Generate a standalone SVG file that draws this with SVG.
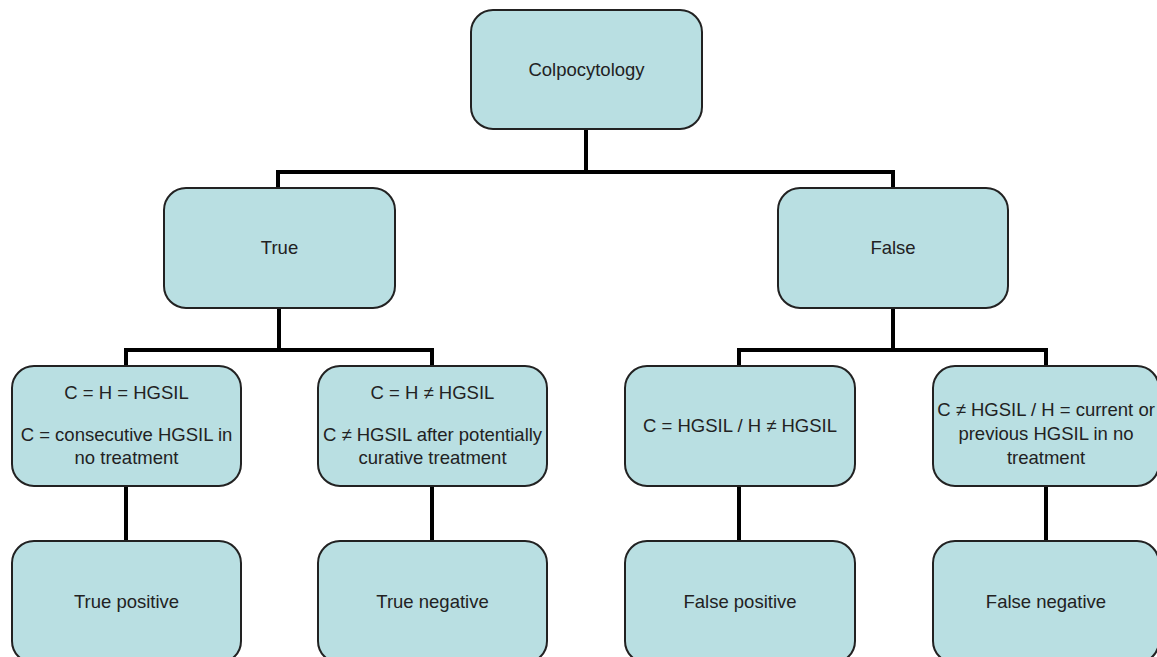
<svg xmlns="http://www.w3.org/2000/svg" width="1157" height="657" viewBox="0 0 1157 657">
<style>
.box{fill:#b9dfe2;stroke:#222;stroke-width:2}
.t{font-family:"Liberation Sans",Arial,sans-serif;font-size:18.5px;fill:#222;text-anchor:middle}
.c{fill:none;stroke:#000;stroke-width:4}
</style>
<rect width="1157" height="657" fill="#fff"/>
<g id="connectors">
<path class="c" d="M586 129V172M278 188V172H893V188"/>
<path class="c" d="M279 308V350M126 366V350H432V366"/>
<path class="c" d="M893 308V350M739 366V350H1046V366"/>
<path class="c" d="M126 486V541M432 486V541M739 486V541M1046 486V541"/>
</g>
<g id="root"><rect class="box" x="471" y="10" width="231" height="119" rx="22"/><text class="t" x="586.5" y="76">Colpocytology</text></g>
<g id="true"><rect class="box" x="164" y="188" width="231" height="120" rx="22"/><text class="t" x="279.5" y="254">True</text></g>
<g id="false"><rect class="box" x="778" y="188" width="230" height="120" rx="22"/><text class="t" x="893" y="254">False</text></g>
<g id="tp-cond"><rect class="box" x="12" y="366" width="229" height="120" rx="22"/><text class="t" x="126.5" y="399">C = H = HGSIL</text><text class="t" x="126.5" y="441">C = consecutive HGSIL in</text><text class="t" x="126.5" y="464">no treatment</text></g>
<g id="tn-cond"><rect class="box" x="318" y="366" width="229" height="120" rx="22"/><text class="t" x="432.5" y="399">C = H ≠ HGSIL</text><text class="t" x="432.5" y="441">C ≠ HGSIL after potentially</text><text class="t" x="432.5" y="464">curative treatment</text></g>
<g id="fp-cond"><rect class="box" x="625" y="366" width="230" height="120" rx="22"/><text class="t" x="740" y="432">C = HGSIL / H ≠ HGSIL</text></g>
<g id="fn-cond"><rect class="box" x="933" y="366" width="226" height="120" rx="22"/><text class="t" x="1046" y="416">C ≠ HGSIL / H = current or</text><text class="t" x="1046" y="440">previous HGSIL in no</text><text class="t" x="1046" y="464">treatment</text></g>
<g id="tp"><rect class="box" x="12" y="541" width="229" height="122" rx="22"/><text class="t" x="126.5" y="608">True positive</text></g>
<g id="tn"><rect class="box" x="318" y="541" width="229" height="122" rx="22"/><text class="t" x="432.5" y="608">True negative</text></g>
<g id="fp"><rect class="box" x="625" y="541" width="230" height="122" rx="22"/><text class="t" x="740" y="608">False positive</text></g>
<g id="fn"><rect class="box" x="933" y="541" width="226" height="122" rx="22"/><text class="t" x="1046" y="608">False negative</text></g>
</svg>
